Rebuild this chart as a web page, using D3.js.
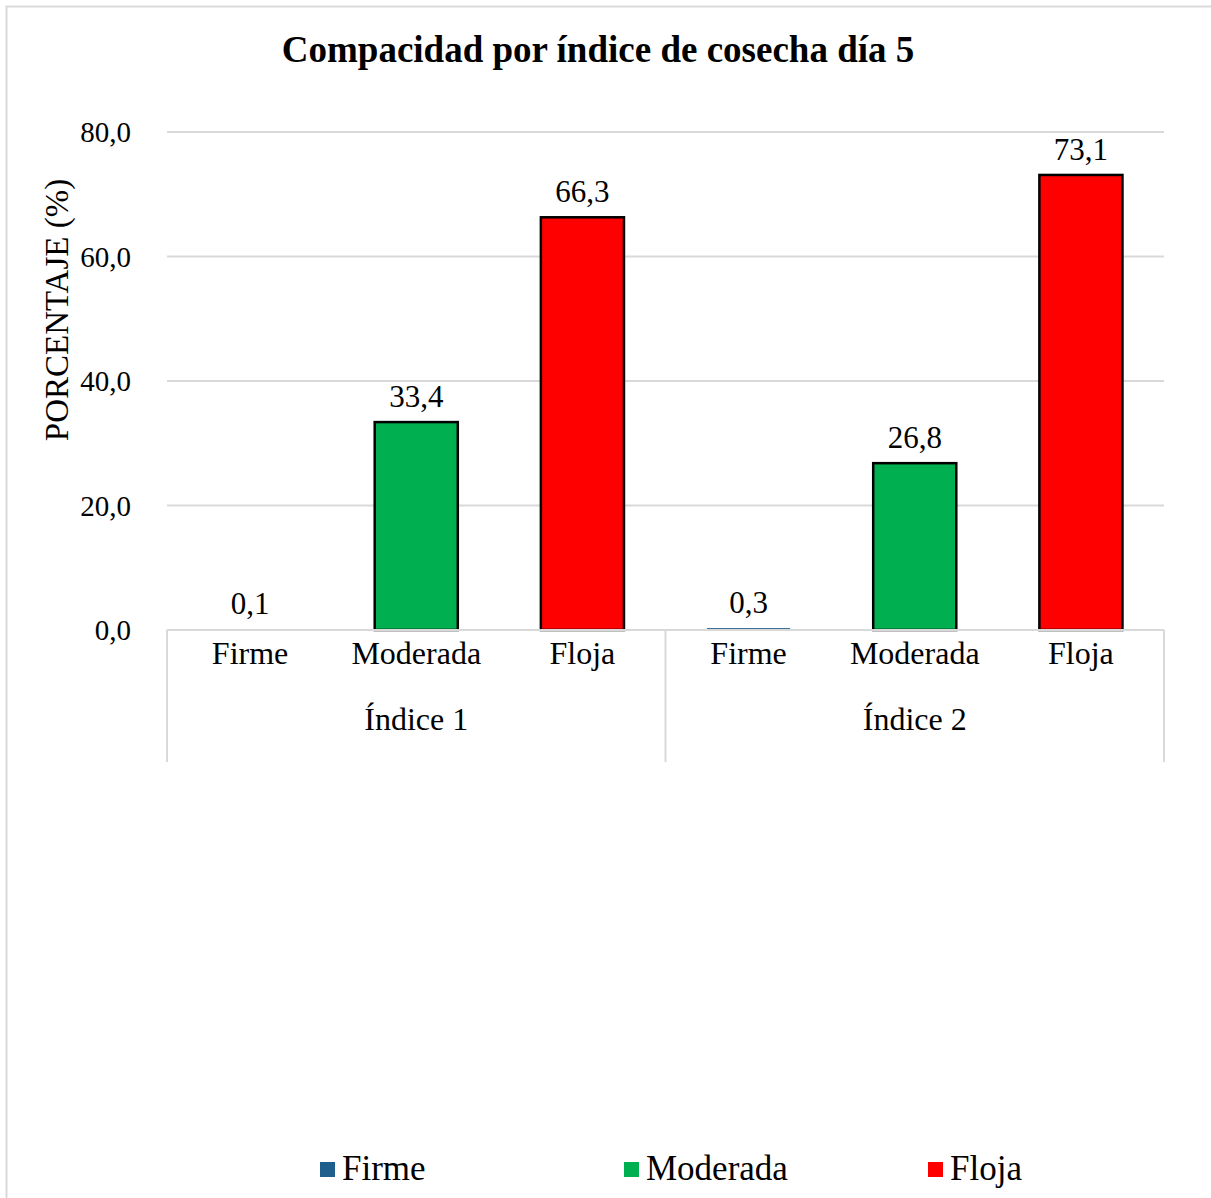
<!DOCTYPE html>
<html>
<head>
<meta charset="utf-8">
<script src="https://cdn.jsdelivr.net/npm/d3@7"></script>
<style>
  html, body { margin: 0; padding: 0; background: #fff; }
  svg text { font-family: "Liberation Serif", "Times New Roman", serif; fill: #000; }
</style>
</head>
<body>
<div id="chart"></div>
<script>
// chart data
const groups = ["Índice 1", "Índice 2"]
const categories = ["Firme", "Moderada", "Floja"]
const indice1 = [0.1, 33.4, 66.3]
const indice2 = [0.3, 26.8, 73.1]
const yTicks = [0, 20, 40, 60, 80]
const colors = ["#1f5f8e", "#00b050", "#ff0000"]

const seriesByGroup = [indice1, indice2]
const rows = []
groups.forEach((g, gi) => {
  categories.forEach((c, ci) => {
    rows.push({ group: g, category: c, value: seriesByGroup[gi][ci], color: colors[ci] })
  })
})

const width = 1211
const height = 1198
const plot = { left: 167, right: 1164, top: 132, bottom: 630 }
const fmt = v => d3.format(".1f")(v).replace(".", ",")
const grid = "#d9d9d9"

const svg = d3.select("#chart")
  .append("svg")
  .attr("width", width)
  .attr("height", height)
  .attr("viewBox", [0, 0, width, height])

// outer border (only top and left edges fall inside the picture)
svg.append("rect")
  .attr("x", 6.5)
  .attr("y", 6.5)
  .attr("width", width + 40)
  .attr("height", height + 40)
  .attr("fill", "none")
  .attr("stroke", grid)
  .attr("stroke-width", 2)

// title
svg.append("text")
  .attr("x", 598)
  .attr("y", 62)
  .attr("text-anchor", "middle")
  .attr("font-size", "37px")
  .attr("font-weight", "bold")
  .text("Compacidad por índice de cosecha día 5")

const y = d3.scaleLinear()
  .domain([0, 80])
  .range([plot.bottom, plot.top])

const x0 = d3.scaleBand()
  .domain(groups)
  .range([plot.left, plot.right])

const x1 = d3.scaleBand()
  .domain(categories)
  .range([0, x0.bandwidth()])

// gridlines
svg.append("g")
  .selectAll("line")
  .data(yTicks.filter(t => t > 0))
  .enter()
  .append("line")
  .attr("x1", plot.left)
  .attr("x2", plot.right)
  .attr("y1", d => y(d))
  .attr("y2", d => y(d))
  .attr("stroke", grid)
  .attr("stroke-width", 2)

// y tick labels
svg.append("g")
  .selectAll("text")
  .data(yTicks)
  .enter()
  .append("text")
  .attr("x", 131)
  .attr("y", d => y(d))
  .attr("dy", "0.35em")
  .attr("text-anchor", "end")
  .attr("font-size", "29px")
  .text(d => fmt(d))

// y axis title
svg.append("text")
  .attr("transform", "translate(68,310) rotate(-90)")
  .attr("text-anchor", "middle")
  .attr("font-size", "33px")
  .text("PORCENTAJE (%)")

// bars
const barW = x1.bandwidth() * 0.5
svg.append("g")
  .selectAll("rect")
  .data(rows)
  .enter()
  .append("rect")
  .attr("x", d => x0(d.group) + x1(d.category) + (x1.bandwidth() - barW) / 2)
  .attr("y", d => y(d.value))
  .attr("width", barW)
  .attr("height", d => y(0) - y(d.value))
  .attr("fill", d => d.color)
  .attr("stroke", "#000")
  .attr("stroke-width", d => d.value > 1 ? 2.5 : 0)

// data labels
svg.append("g")
  .selectAll("text")
  .data(rows)
  .enter()
  .append("text")
  .attr("x", d => x0(d.group) + x1(d.category) + x1.bandwidth() / 2)
  .attr("y", d => y(d.value) - 15)
  .attr("text-anchor", "middle")
  .attr("font-size", "31px")
  .text(d => fmt(d.value))

// category axis box
const axis = svg.append("g")
axis.append("line")
  .attr("x1", plot.left)
  .attr("x2", plot.right)
  .attr("y1", y(0))
  .attr("y2", y(0))
  .attr("stroke", grid)
  .attr("stroke-width", 2)

const dividers = [plot.left].concat(groups.map(g => x0(g) + x0.bandwidth()))
axis.selectAll(".div")
  .data(dividers)
  .enter()
  .append("line")
  .attr("class", "div")
  .attr("x1", d => d)
  .attr("x2", d => d)
  .attr("y1", y(0))
  .attr("y2", y(0) + 132)
  .attr("stroke", grid)
  .attr("stroke-width", 2)

// category labels
axis.selectAll(".cat")
  .data(rows)
  .enter()
  .append("text")
  .attr("class", "cat")
  .attr("x", d => x0(d.group) + x1(d.category) + x1.bandwidth() / 2)
  .attr("y", y(0) + 34)
  .attr("text-anchor", "middle")
  .attr("font-size", "32px")
  .text(d => d.category)

axis.selectAll(".grp")
  .data(groups)
  .enter()
  .append("text")
  .attr("class", "grp")
  .attr("x", d => x0(d) + x0.bandwidth() / 2)
  .attr("y", y(0) + 100)
  .attr("text-anchor", "middle")
  .attr("font-size", "32px")
  .text(d => d)

// legend
const legend = svg.append("g")
  .selectAll("g")
  .data(categories)
  .enter()
  .append("g")
  .attr("transform", (d, i) => `translate(${320 + i * 304},1162)`)

legend.append("rect")
  .attr("width", 15)
  .attr("height", 15)
  .attr("fill", (d, i) => colors[i])

legend.append("text")
  .attr("x", 22)
  .attr("y", 18)
  .attr("font-size", "35px")
  .text(d => d)
</script>
</body>
</html>
